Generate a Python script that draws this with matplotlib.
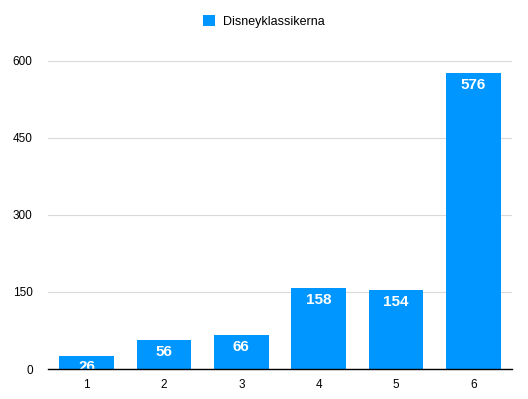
import matplotlib.pyplot as plt

categories = ['1', '2', '3', '4', '5', '6']
values = [26, 56, 66, 158, 154, 576]
series_name = 'Disneyklassikerna'
yticks = [0, 150, 300, 450, 600]

plt.rcParams['font.family'] = ['Liberation Sans', 'DejaVu Sans']

fig = plt.figure(figsize=(5.28, 3.99), dpi=100)
ax = fig.add_axes([48/528, 1-369/399, 464/528, 308/399])

x = range(len(categories))
bars = ax.bar(x, values, width=0.71, color='#0096FF', label=series_name, zorder=2)
for rect, v in zip(bars, values):
    ax.text(rect.get_x() + rect.get_width()/2, v - 9, str(v),
            ha='center', va='top', color='white', fontsize=11, fontweight='bold', zorder=3)

ax.set_xlim(-0.5, len(categories) - 0.5)
ax.set_ylim(0, 600)
ax.set_yticks(yticks)
ax.set_xticks(list(x))
ax.set_xticklabels(categories)
ax.tick_params(axis='both', length=0, labelsize=8.5, colors='black')
ax.tick_params(axis='y', pad=11)
ax.tick_params(axis='x', pad=7)
ax.grid(axis='y', color='#d9d9d9', lw=0.8, zorder=0)
for s in ['top', 'right', 'left']:
    ax.spines[s].set_visible(False)
ax.spines['bottom'].set_color('black')
ax.spines['bottom'].set_linewidth(1)
ax.spines['bottom'].set_zorder(4)

fig.legend(loc='upper center', bbox_to_anchor=(0.5, 0.99), frameon=False,
           fontsize=9, handlelength=0.95, handleheight=0.95, handletextpad=0.6)

plt.savefig('out.png', dpi=100)
